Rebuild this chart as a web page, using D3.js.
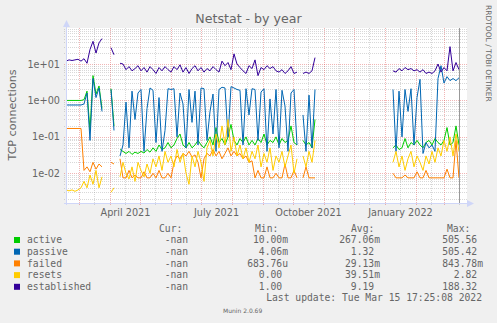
<!DOCTYPE html>
<html>
<head>
<meta charset="utf-8">
<script src="https://cdn.jsdelivr.net/npm/d3@7"></script>
<style>
  body { margin: 0; background: #f0f0f0; }
  svg { display: block; }
  text { font-family: "DejaVu Sans", sans-serif; fill: #666; }
  .mono { font-family: "DejaVu Sans Mono", monospace; }
</style>
</head>
<body>
<svg id="chart" width="497" height="323"></svg>
<script>
// Samples are taken every few days, starting at this date (UTC).
const firstSample = Date.UTC(2021, 1, 16);
const stepDays = 3;
const _ = null; // no data

const active = [
  1, 1, 1, 1, 1, 1, 1.05, 1.8, 0.15, 4.8,
  1.5, 2.5, 0.6, _, _, 2.1, 0.2, _, 0.045, 0.04,
  0.035, 0.04, 0.033, 0.038, 0.035, 0.04, 0.036, 0.045, 0.038, 0.05,
  0.04, 0.06, 0.045, 0.05, 0.07, 0.05, 0.06, 0.09, 0.12, 0.06,
  0.05, 0.07, 0.05, 0.06, 0.08, 0.06, 0.05, 0.07, 0.1, 0.06,
  0.18, 0.07, 0.09, 0.06, 0.1, 0.22, 0.08, 0.06, 0.09, 0.07,
  0.1, 0.06, 0.08, 0.06, 0.09, 0.07, 0.12, 0.06, 0.08, 0.07,
  0.1, 0.06, 0.09, 0.07, 0.08, 0.2, 0.07, 0.06, _, 0.08,
  0.06, 0.07, 0.05, 0.3, _, _, _, _, _, _,
  _, _, _, _, _, _, _, _, _, _,
  _, _, _, _, _, _, _, _, _, 0.05,
  0.06, 0.045, 0.05, 0.09, 0.05, 0.07, 0.06, 0.08, 0.06, 0.05,
  0.07, 0.08, 0.06, 0.09, 0.07, 0.06, 0.08, 0.18, 0.06, 0.07,
  0.2, 0.06
];

const passive = [
  0.75, 0.75, 0.75, 0.75, 0.75, 0.75, 0.8, 1.6, 0.08, 4,
  1.2, 2.2, 0.5, _, _, 2, 0.15, _, 0.03, 0.06,
  0.9, 0.05, 1.8, 0.3, 1.6, 2, 0.04, 0.6, 2.2, 1.9,
  0.07, 1.2, 0.04, 0.15, 2.1, 2, 2.1, 0.1, 1.6, 0.8,
  0.05, 2, 0.25, 1.8, 0.06, 2.2, 2.1, 0.08, 0.5, 1.5,
  0.04, 2, 2.3, 2.2, 0.1, 2.4, 2.2, 2, 1.9, 0.06,
  2.1, 0.4, 2.1, 2, 0.08, 1.7, 2.1, 0.04, 1.1, 0.12,
  2, 0.05, 1.9, 0.7, 0.04, 1.6, 2, 0.06, _, 0.4,
  0.04, 1.4, 0.05, 2, _, _, _, _, _, _,
  _, _, _, _, _, _, _, _, _, _,
  _, _, _, _, _, _, _, _, _, 2,
  0.04, 1.8, 0.1, 2, 0.5, 2.1, 0.06, 1.2, 3.8, 0.035,
  0.07, 0.05, 0.06, 0.04, 4, 9, 3, 4.5, 3.5, 4,
  3.5, 4.2
];

const failed = [
  0.17, 0.17, 0.17, 0.17, 0.17, 0.17, 0.012, 0.015, 0.011, 0.02,
  0.013, 0.018, 0.015, _, _, 0.02, 0.018, _, 0.025, 0.0075,
  0.0075, 0.012, 0.0075, 0.009, 0.0075, 0.0075, 0.011, 0.0075, 0.0075, 0.01,
  0.0075, 0.012, 0.0075, 0.0075, 0.01, 0.0075, 0.02, 0.03, 0.025, 0.035,
  0.03, 0.04, 0.028, 0.032, 0.02, 0.0075, 0.025, 0.035, 0.03, 0.045,
  0.03, 0.04, 0.025, 0.035, 0.05, 0.03, 0.04, 0.03, 0.035, 0.025,
  0.03, 0.02, 0.022, 0.0075, 0.012, 0.0075, 0.0075, 0.015, 0.0075, 0.0075,
  0.01, 0.0075, 0.0075, 0.018, 0.0075, 0.0075, 0.012, 0.0075, _, 0.0075,
  0.015, 0.0075, 0.0075, 0.0075, _, _, _, _, _, _,
  _, _, _, _, _, _, _, _, _, _,
  _, _, _, _, _, _, _, _, _, 0.01,
  0.0075, 0.0075, 0.0075, 0.009, 0.0075, 0.0075, 0.0075, 0.011, 0.0075, 0.0075,
  0.012, 0.0075, 0.0075, 0.0075, 0.0075, 0.0075, 0.0075, 0.013, 0.0075, 0.0075,
  0.08, 0.0075
];

const resets = [
  0.0035, 0.0033, 0.0035, 0.0032, 0.0035, 0.004, 0.006, 0.004, 0.009, 0.005,
  0.012, 0.004, 0.008, _, _, 0.003, 0.004, _, 0.008, 0.02,
  0.01, 0.007, 0.015, 0.006, 0.02, 0.012, 0.008, 0.018, 0.01, 0.025,
  0.015, 0.03, 0.012, 0.04, 0.02, 0.03, 0.015, 0.045, 0.02, 0.035,
  0.01, 0.005, 0.03, 0.015, 0.04, 0.02, 0.006, 0.05, 0.08, 0.03,
  0.12, 0.05, 0.2, 0.06, 0.3, 0.04, 0.1, 0.03, 0.06, 0.025,
  0.05, 0.02, 0.04, 0.025, 0.06, 0.015, 0.035, 0.02, 0.05, 0.012,
  0.03, 0.02, 0.04, 0.015, 0.03, 0.06, 0.01, 0.025, _, 0.03,
  0.015, 0.04, 0.02, 0.08, _, _, _, _, _, _,
  _, _, _, _, _, _, _, _, _, _,
  _, _, _, _, _, _, _, _, _, 0.02,
  0.04, 0.015, 0.03, 0.012, 0.025, 0.04, 0.015, 0.03, 0.02, 0.012,
  0.03, 0.018, 0.04, 0.02, 0.05, 0.03, 0.08, 0.04, 0.1, 0.03,
  0.12, 0.04
];

const established = [
  12, 13, 12.5, 13, 13.5, 12, 14, 10.5, 25, 42,
  20, 38, 50, _, _, 28, 18, _, 10.5, 10,
  7, 8.5, 6.5, 7.5, 9, 6.5, 8, 6, 8.5, 7,
  5.5, 8, 6.5, 8.5, 7, 6, 8.5, 7, 9.5, 6,
  8, 5.5, 7.5, 9, 6.5, 8, 6, 7.5, 6.5, 8.5,
  7, 6, 12, 9, 11, 7, 19, 10, 8, 6.5,
  5.5, 9, 7.5, 13, 4.8, 8, 7, 9, 7.5, 8.5,
  6.5, 6, 7, 5.5, 6.5, 8.5, 5.5, 6, _, 5.5,
  6, 5.5, 6.5, 15, _, _, _, _, _, _,
  _, _, _, _, _, _, _, _, _, _,
  _, _, _, _, _, _, _, _, _, 6.5,
  6, 7.5, 6.5, 8, 7, 7.5, 6.5, 7, 6, 7,
  5.5, 6, 5.5, 6.5, 10, 6, 8, 6.5, 30, 6.5,
  11, 7
];

// Legend
const seriesNames  = ["active", "passive", "failed", "resets", "established"];
const seriesColors = ["#00cc00", "#0066b3", "#ff8000", "#ffcc00", "#330099"];
const seriesValues = [active, passive, failed, resets, established];
const curLabels = ["-nan", "-nan", "-nan", "-nan", "-nan"];
const minLabels = ["10.00m", "4.06m", "683.76u", "0.00", "1.00"];
const avgLabels = ["267.06m", "1.32", "29.13m", "39.51m", "9.19"];
const maxLabels = ["505.56", "505.42", "843.78m", "2.82", "188.32"];

// Axes
const yTickValues = [0.01, 0.1, 1, 10];
const yTickLabels = ["1e-02", "1e-01", "1e+00", "1e+01"];
const xLabelDates = [Date.UTC(2021, 3, 16), Date.UTC(2021, 6, 16), Date.UTC(2021, 9, 16), Date.UTC(2022, 0, 16)];
const lastUpdate = Date.UTC(2022, 2, 15, 17, 25, 8);

const svg = d3.select("#chart");
const pL = 66, pR = 466, pT = 28, pB = 203;
const DAY = 86400000;
const minorGrid = "rgba(143,143,143,0.35)";
const majorGrid = "rgba(222,79,79,0.42)";

const x = d3.scaleUtc()
  .domain([Date.UTC(2021, 1, 16), Date.UTC(2022, 2, 23)])
  .range([pL, pR]);
const y = d3.scaleLog()
  .domain([0.00153, 97.5])
  .range([pB, pT]);

// canvas
svg.append("rect").attr("x", pL).attr("y", pT)
  .attr("width", pR - pL + 1).attr("height", pB - pT)
  .attr("fill", "#ffffff");

const grid = svg.append("g").attr("shape-rendering", "crispEdges");

// horizontal minor + major grid lines
const [lo, hi] = y.domain();
for (let e = -3; e <= 2; e++) {
  for (let k = 1; k <= 9; k++) {
    const v = k * Math.pow(10, e);
    if (v < lo || v > hi) continue;
    const py = Math.round(y(v)) + 0.5;
    grid.append("line")
      .attr("x1", pL - 2).attr("x2", pR + 1)
      .attr("y1", py).attr("y2", py)
      .attr("stroke", k === 1 ? majorGrid : minorGrid)
      .attr("stroke-dasharray", "1,1");
  }
}

// vertical grid: month starts (major) and mid-month (minor)
const months = d3.utcMonths(Date.UTC(2021, 1, 1), Date.UTC(2022, 3, 1));
months.forEach(m => {
  const mid = d3.utcDay.offset(m, 15);
  [[m, true], [mid, false]].forEach(([d, major]) => {
    const px = Math.round(x(d)) + 0.5;
    if (px < pL || px > pR) return;
    grid.append("line")
      .attr("x1", px).attr("x2", px)
      .attr("y1", pT).attr("y2", pB + 2)
      .attr("stroke", major ? majorGrid : minorGrid)
      .attr("stroke-dasharray", "1,1");
  });
});

// series lines
svg.append("clipPath").attr("id", "plotclip")
  .append("rect").attr("x", pL).attr("y", pT)
  .attr("width", pR - pL + 1).attr("height", pB - pT);

const plot = svg.append("g").attr("clip-path", "url(#plotclip)");
seriesValues.forEach((vals, si) => {
  const pts = vals.map((v, i) => ({ t: firstSample + i * stepDays * DAY, v }));
  const line = d3.line()
    .defined(d => d.v !== null)
    .x(d => x(d.t))
    .y(d => y(d.v));
  plot.append("path")
    .attr("d", line(pts))
    .attr("fill", "none")
    .attr("stroke", seriesColors[si])
    .attr("stroke-width", 1);
});

// "now" marker
const nowX = Math.round(x(lastUpdate)) + 0.5;
svg.append("line")
  .attr("x1", nowX).attr("x2", nowX)
  .attr("y1", pT).attr("y2", pB)
  .attr("stroke", "#999").attr("stroke-width", 1)
  .attr("shape-rendering", "crispEdges");

// axis lines with arrows
const axisColor = "#cfd6f8";
svg.append("line").attr("x1", pL + 0.5).attr("x2", pL + 0.5)
  .attr("y1", pB + 2).attr("y2", pT - 4)
  .attr("stroke", axisColor).attr("shape-rendering", "crispEdges");
svg.append("line").attr("x1", pL - 2).attr("x2", pR + 4)
  .attr("y1", pB + 0.5).attr("y2", pB + 0.5)
  .attr("stroke", axisColor).attr("shape-rendering", "crispEdges");
svg.append("path")
  .attr("d", `M${pL + 0.5},${pT - 8} L${pL - 3},${pT - 1} L${pL + 4},${pT - 1} Z`)
  .attr("fill", axisColor);
svg.append("path")
  .attr("d", `M${pR + 8},${pB + 0.5} L${pR + 1},${pB - 3} L${pR + 1},${pB + 4} Z`)
  .attr("fill", axisColor);

// y tick labels
const yAxis = d3.axisLeft(y)
  .tickValues(yTickValues)
  .tickFormat((d, i) => yTickLabels[i])
  .tickSize(0)
  .tickPadding(6);
const gy = svg.append("g").attr("transform", `translate(${pL},0)`).call(yAxis);
gy.select(".domain").remove();
gy.selectAll("text").attr("font-family", "DejaVu Sans").attr("font-size", "9.7px").attr("fill", "#666");

// x labels
const xAxis = d3.axisBottom(x)
  .tickValues(xLabelDates)
  .tickFormat(d3.utcFormat("%B %Y"))
  .tickSize(0)
  .tickPadding(6);
const gx = svg.append("g").attr("transform", `translate(0,${pB})`).call(xAxis);
gx.select(".domain").remove();
gx.selectAll("text").attr("font-family", "DejaVu Sans").attr("font-size", "9.7px").attr("fill", "#666");

// title
svg.append("text").attr("x", 248.5).attr("y", 23)
  .attr("text-anchor", "middle").attr("font-size", "12.6px")
  .text("Netstat - by year");

// vertical unit label
svg.append("text")
  .attr("transform", "translate(15.5,115) rotate(-90)")
  .attr("text-anchor", "middle").attr("font-size", "11.1px")
  .text("TCP connections");

// watermark
svg.append("text")
  .attr("transform", "translate(486,5) rotate(90)")
  .attr("font-size", "7.5px").attr("fill", "#c8c8c8")
  .text("RRDTOOL / TOBI OETIKER");

// legend
const legend = svg.append("g").attr("font-size", "9.7px");
const hdrY = 231.6;
[["Cur:", 159], ["Min:", 255], ["Avg:", 351], ["Max:", 447]].forEach(([t, px]) => {
  legend.append("text").attr("class", "mono").attr("x", px).attr("y", hdrY).text(t);
});
const pad = s => /[0-9]$/.test(s) ? s + "\u00a0" : s;
seriesNames.forEach((name, i) => {
  const by = 243.3 + i * 11.7;
  legend.append("rect").attr("x", 14).attr("y", by - 6.3).attr("width", 6).attr("height", 6)
    .attr("fill", seriesColors[i]);
  legend.append("text").attr("class", "mono").attr("x", 27).attr("y", by).text(name);
  legend.append("text").attr("class", "mono").attr("x", 188).attr("y", by)
    .attr("text-anchor", "end").text(curLabels[i]);
  legend.append("text").attr("class", "mono").attr("x", 288).attr("y", by)
    .attr("text-anchor", "end").text(pad(minLabels[i]));
  legend.append("text").attr("class", "mono").attr("x", 380).attr("y", by)
    .attr("text-anchor", "end").text(pad(avgLabels[i]));
  legend.append("text").attr("class", "mono").attr("x", 483).attr("y", by)
    .attr("text-anchor", "end").text(pad(maxLabels[i]));
});
legend.append("text").attr("class", "mono").attr("x", 482).attr("y", 301)
  .attr("text-anchor", "end")
  .text("Last update: " + d3.utcFormat("%a %b %e %H:%M:%S %Y")(new Date(lastUpdate)));

svg.append("text").attr("x", 223).attr("y", 312.5)
  .attr("font-size", "6px").attr("fill", "#bbb")
  .text("Munin 2.0.69");
</script>
</body>
</html>
